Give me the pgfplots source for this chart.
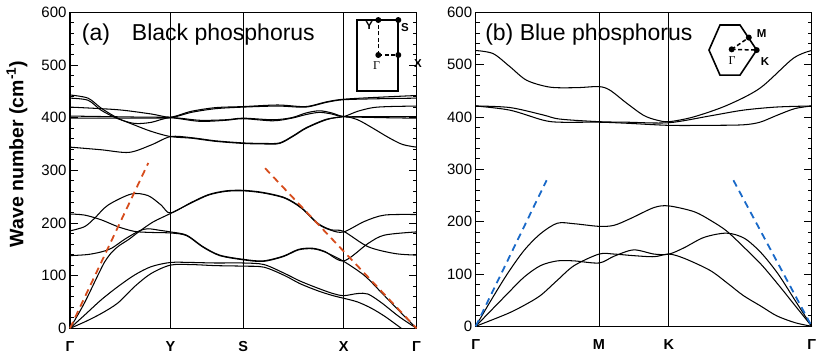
\documentclass[border=0pt]{standalone}
\usepackage{fontspec}
\setmainfont{Liberation Sans}
\newfontfamily\seriffont{Liberation Serif}
\usepackage{pgfplots}
\pgfplotsset{compat=1.18}

\definecolor{bpred}{RGB}{214,76,28}
\definecolor{bpblue}{RGB}{25,105,200}

\tikzset{bzdash/.style={line width=1.5pt, dash pattern=on 4pt off 2.5pt}}

\pgfplotsset{
  band/.style={black, line width=1.05pt, smooth, tension=0.5, no markers},
  symline/.style={black, line width=0.9pt, no markers},
  guide/.style={line width=1.8pt, dash pattern=on 7pt off 5pt, no markers},
  panel/.style={
    scale only axis,
    xmin=0, xmax=1, ymin=0, ymax=600,
    ytick={0,100,...,600},
    minor y tick num=4,
    ytick pos=both,
    yticklabel pos=left,
    tick align=inside,
    major tick length=8pt,
    minor tick length=4pt,
    tick style={black, line width=0.8pt},
    xtick style={draw=none},
    axis line style={line width=1.4pt},
    /pgf/number format/assume math mode=true,
    yticklabel style={font=\fontsize{15}{15}\selectfont},
    xticklabel style={font=\bfseries\fontsize{14.5}{15}\selectfont, yshift=-10pt},
    clip=false,
  },
}

\begin{document}
\begin{tikzpicture}[x=1pt,y=1pt]
\path[use as bounding box] (0,0) rectangle (831,354);

\node[rotate=90, anchor=base, font=\bfseries\fontsize{19.5}{20}\selectfont] at (23.5,200) {Wave number (cm\textsuperscript{-1})};

% ---------------- (a) black phosphorus
\begin{axis}[panel, width=346.5pt, height=316pt, at={(70pt,25.7pt)}, anchor=south west,
  xtick={0,0.29,0.5,0.79,1}, xticklabels={Γ,Y,S,X,Γ}]
\addplot[symline] coordinates {(0.29,0) (0.29,600)};
\addplot[symline] coordinates {(0.5,0) (0.5,600)};
\addplot[symline] coordinates {(0.79,0) (0.79,600)};

% acoustic
\addplot[band] coordinates {(0,0) (0.042,12) (0.09,28) (0.138,48) (0.186,79) (0.234,104) (0.29,120) (0.35,121) (0.42,119) (0.5,118) (0.56,116) (0.62,100) (0.663,85) (0.716,71) (0.759,62) (0.79,57) (0.83,50) (0.87,38) (0.91,22) (0.956,0)};
\addplot[band] coordinates {(0,0) (0.042,25) (0.09,54) (0.138,79) (0.186,101) (0.234,117) (0.29,125) (0.35,125) (0.42,124) (0.5,124) (0.56,121) (0.62,104) (0.663,90) (0.716,76) (0.759,66) (0.79,62) (0.83,66) (0.86,65) (0.9,48) (0.95,22) (1,0)};
\addplot[band] coordinates {(0,0) (0.04,46) (0.08,100) (0.1,126) (0.12,144) (0.14,156) (0.17,169) (0.2,184) (0.24,202) (0.29,218) (0.35,238) (0.4,253) (0.45,260) (0.5,261) (0.557,257) (0.62,247) (0.668,228) (0.716,198) (0.754,186) (0.79,183) (0.85,203) (0.908,215) (1,216)};
% lower optical
\addplot[band] coordinates {(0,185) (0.042,193) (0.071,209) (0.11,234) (0.177,255) (0.225,252) (0.263,234) (0.29,219) (0.35,239) (0.4,254) (0.45,261) (0.5,262) (0.557,258) (0.62,248) (0.668,229) (0.716,199) (0.754,187) (0.79,184) (0.86,155) (0.937,142) (1,139)};
\addplot[band] coordinates {(0,138) (0.05,140) (0.09,145) (0.12,152) (0.16,170) (0.2,185) (0.225,189) (0.26,186) (0.29,183) (0.336,177) (0.384,155) (0.432,139) (0.5,131) (0.557,128) (0.615,137) (0.66,150) (0.7,152) (0.735,146) (0.79,128) (0.86,161) (0.908,177) (1,183)};
\addplot[band] coordinates {(0,217) (0.042,215) (0.09,206) (0.138,193) (0.186,184) (0.234,182) (0.29,181) (0.336,176) (0.384,154) (0.432,138) (0.5,130) (0.557,127) (0.615,136) (0.66,149) (0.7,151) (0.735,145) (0.79,127) (0.85,100) (0.9,67) (0.95,33) (1,0)};
% upper optical
\addplot[band] coordinates {(0,443) (0.052,437) (0.09,418) (0.138,399) (0.186,386) (0.234,374) (0.29,364) (0.35,361) (0.42,355) (0.5,351) (0.56,350) (0.605,351) (0.645,365) (0.682,380) (0.74,396) (0.79,402) (0.83,396) (0.874,380) (0.92,362) (0.96,349) (1,344)};
\addplot[band] coordinates {(0,344) (0.09,339) (0.17,334) (0.234,348) (0.29,364) (0.35,362) (0.42,356) (0.5,352) (0.56,351) (0.605,352) (0.645,366) (0.682,381) (0.74,397) (0.79,402) (0.83,412) (0.874,419) (0.92,421) (1,422)};
\addplot[band] coordinates {(0,437) (0.052,433) (0.09,414) (0.138,398) (0.186,389) (0.234,391) (0.29,400) (0.374,395) (0.45,396) (0.5,399) (0.586,396) (0.64,400) (0.682,409) (0.72,413) (0.755,409) (0.79,402) (0.85,402) (1,402)};
\addplot[band] coordinates {(0,403) (0.1,402) (0.2,401) (0.29,400) (0.374,393) (0.45,395) (0.5,398) (0.586,394) (0.64,399) (0.682,406) (0.72,410) (0.755,407) (0.79,402) (0.9,400) (1,399)};
\addplot[band] coordinates {(0,420) (0.138,415) (0.234,407) (0.29,401) (0.35,412) (0.42,419) (0.5,421) (0.6,424) (0.68,421) (0.74,430) (0.79,435) (0.9,439) (1,442)};
\addplot[band] coordinates {(0,399) (0.1,399) (0.2,399) (0.29,400) (0.35,410) (0.42,417) (0.5,420) (0.6,422) (0.68,420) (0.74,429) (0.79,434) (0.9,436) (1,437)};

% sound-velocity guides
\addplot[guide, bpred] coordinates {(0,0) (0.226,314)};
\addplot[guide, bpred] coordinates {(0.563,304) (1,0)};

\node[anchor=base west, font=\fontsize{23}{23}\selectfont] at (rel axis cs:0.024,0.912) {(a)\hspace{22pt}Black phosphorus};

% Brillouin zone inset
\draw[line width=1.8pt] (rel axis cs:0.8274,0.7519) rectangle (rel axis cs:0.9475,0.9756);
\draw[bzdash] (rel axis cs:0.8898,0.8649) -- (rel axis cs:0.8898,0.9756);
\draw[bzdash] (rel axis cs:0.8898,0.8649) -- (rel axis cs:0.9475,0.8649);
\fill (rel axis cs:0.8898,0.9756) circle (3pt);
\fill (rel axis cs:0.9475,0.9756) circle (3pt);
\fill (rel axis cs:0.8898,0.8649) circle (3pt);
\fill (rel axis cs:0.9475,0.8649) circle (3pt);
\node[font=\bfseries\fontsize{11.5}{12}\selectfont] at (rel axis cs:0.8638,0.9566) {Y};
\node[font=\bfseries\fontsize{11.5}{12}\selectfont] at (rel axis cs:0.967,0.9525) {S};
\node[font=\seriffont\fontsize{12}{12}\selectfont] at (rel axis cs:0.8848,0.833) {Γ};
\node[font=\bfseries\fontsize{11.5}{12}\selectfont] at (rel axis cs:1.004,0.8386) {X};
\end{axis}

% ---------------- (b) blue phosphorus
\begin{axis}[panel, width=336pt, height=314pt, at={(475.7pt,27.7pt)}, anchor=south west,
  xtick={0,0.367,0.575,1}, xticklabels={Γ,M,K,Γ}]
\addplot[symline] coordinates {(0.367,0) (0.367,600)};
\addplot[symline] coordinates {(0.575,0) (0.575,600)};

% acoustic
\addplot[band] coordinates {(0,0) (0.045,49) (0.094,100) (0.144,145) (0.193,177) (0.243,197) (0.293,196) (0.367,191) (0.412,193) (0.461,206) (0.531,227) (0.575,230) (0.65,219) (0.7,202) (0.747,182) (0.8,150) (0.85,118) (0.9,80) (0.95,40) (1,0)};
\addplot[band] coordinates {(0,0) (0.094,62) (0.144,94) (0.193,116) (0.243,125) (0.293,125) (0.367,121) (0.412,134) (0.47,146) (0.531,138) (0.575,138) (0.62,150) (0.68,170) (0.747,178) (0.8,168) (0.85,140) (0.9,100) (0.95,50) (1,0)};
\addplot[band] coordinates {(0,0) (0.094,24) (0.144,40) (0.193,59) (0.243,88) (0.293,116) (0.367,138) (0.412,138) (0.47,135) (0.531,133) (0.575,138) (0.62,130) (0.697,107) (0.75,82) (0.796,59) (0.85,38) (0.896,20) (0.95,7) (1,0)};
% optical
\addplot[band] coordinates {(0,527) (0.052,521) (0.102,496) (0.152,470) (0.221,457) (0.3,456) (0.367,458) (0.4,451) (0.45,426) (0.5,403) (0.539,394) (0.575,391) (0.648,400) (0.747,422) (0.846,455) (0.945,512) (1,527)};
\addplot[band] coordinates {(0,421) (0.102,413) (0.2,394) (0.25,390) (0.367,390) (0.45,388) (0.575,384) (0.697,384) (0.796,385) (0.846,390) (0.896,403) (0.95,416) (1,421)};
\addplot[band] coordinates {(0,421) (0.102,418) (0.2,404) (0.25,396) (0.367,391) (0.45,390) (0.575,389) (0.697,402) (0.796,413) (0.896,419) (1,421)};

\addplot[guide, bpblue] coordinates {(0,0) (0.211,279)};
\addplot[guide, bpblue] coordinates {(0.767,279) (1,0)};

\node[anchor=base west, font=\fontsize{23}{23}\selectfont] at (rel axis cs:0.018,0.909) {(b) Blue phosphorus};

% Brillouin zone inset
\draw[line width=1.6pt] (rel axis cs:0.7271,0.9595) -- (rel axis cs:0.7866,0.9595) -- (rel axis cs:0.8363,0.8797) -- (rel axis cs:0.7866,0.7999) -- (rel axis cs:0.7271,0.7999) -- (rel axis cs:0.6943,0.8797) -- cycle;
\draw[bzdash] (rel axis cs:0.7619,0.882) -- (rel axis cs:0.8128,0.9196);
\draw[bzdash] (rel axis cs:0.7619,0.882) -- (rel axis cs:0.8363,0.8797);
\fill (rel axis cs:0.7619,0.882) circle (3pt);
\fill (rel axis cs:0.8128,0.9196) circle (3pt);
\fill (rel axis cs:0.8363,0.8797) circle (3pt);
\node[font=\bfseries\fontsize{11.5}{12}\selectfont] at (rel axis cs:0.8512,0.933) {M};
\node[font=\bfseries\fontsize{11.5}{12}\selectfont] at (rel axis cs:0.861,0.8424) {K};
\node[font=\seriffont\fontsize{12}{12}\selectfont] at (rel axis cs:0.7634,0.8478) {Γ};
\end{axis}
\end{tikzpicture}
\end{document}
